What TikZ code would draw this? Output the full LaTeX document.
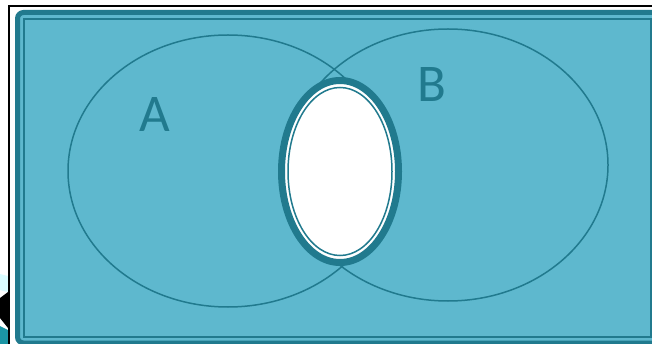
\documentclass[tikz,border=0pt]{standalone}
\usepackage{fontspec}
\setmainfont{Carlito}
\usetikzlibrary{shapes.geometric}

\definecolor{vennfill}{RGB}{94,184,206}
\definecolor{venndark}{RGB}{33,122,142}

\begin{document}
\begin{tikzpicture}[
                    x=1pt, y=-1pt,
                    set/.style={ellipse, draw=venndark, line width=1.5pt, inner sep=0pt, minimum width=320pt, minimum height=272pt},
                    hole/.style={ellipse, draw=venndark, fill=white, line width=7pt, inner sep=0pt, minimum width=117pt, minimum height=182pt},
                    holeline/.style={ellipse, draw=venndark, line width=1.5pt, inner sep=0pt, minimum width=104pt, minimum height=168pt},
                    setlabel/.style={text=venndark, font=\fontsize{53}{53}\selectfont, inner sep=0pt}
                ]
                    \useasboundingbox (0,0) rectangle (652,344);
                    \fill[white] (0,0) rectangle (652,344);

                    % piece of another picture at the left edge
                    \fill[blue!8!cyan!15] (0,274) -- (8,276) -- (8,292) -- (0,290) -- cycle;
                    \fill[black] (0,298) -- (8,292) -- (8,328) -- (0,318) -- cycle;
                    \fill[venndark!80!cyan] (0,326) -- (8,330) -- (8,344) -- (0,344) -- cycle;

                    % frame and background
                    \draw[black, line width=2pt] (9,350) -- (9,6) -- (660,6);
                    \draw[venndark, fill=vennfill, line width=5pt, rounded corners=6pt] (17.5,12.5) rectangle (662,343);
                    \draw[venndark, line width=2pt] (24,19) rectangle (651,336.5);

                    \node [set] (setA) at (228,171) {};
                    \node [set] (setB) at (448,165) {};

                    % intersection
                    \node [hole] (meet) at (340,171.5) {};
                    \node [holeline] (meetin) at (340,171.5) {};

                    \node [setlabel] (labelA) at (155,114) {A};
                    \node [setlabel] (labelB) at (432,85) {B};
                \end{tikzpicture}
\end{document}
